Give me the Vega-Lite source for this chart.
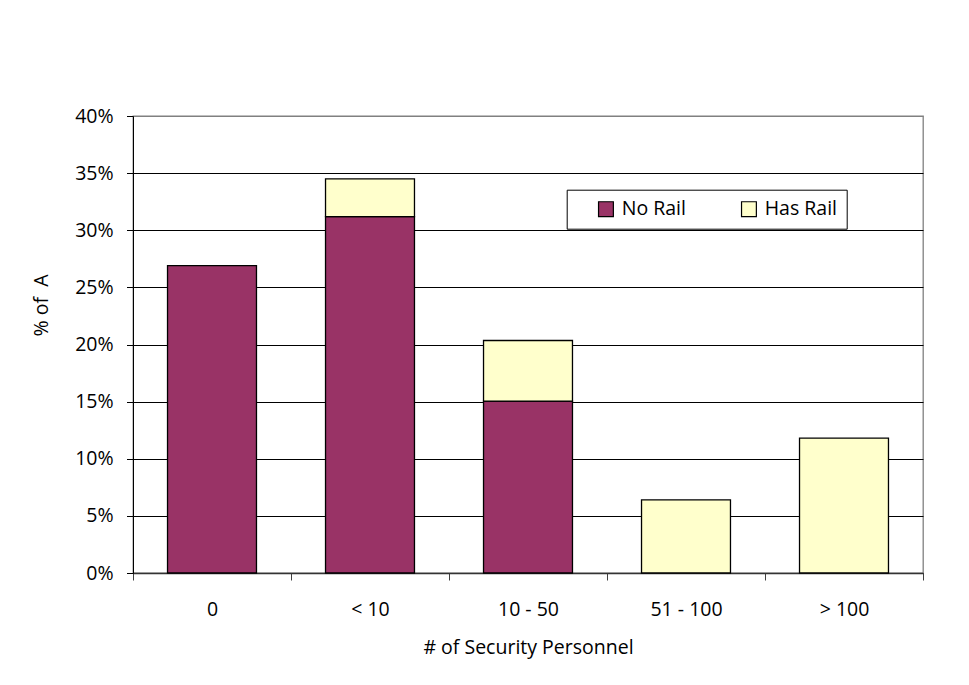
{
  "$schema": "https://vega.github.io/schema/vega-lite/v6.json",
  "width": 790,
  "height": 457,
  "autosize": "none",
  "padding": {"left": 133, "top": 116, "right": 46, "bottom": 112},
  "background": "white",
  "data": {
    "values": [
      {"personnel": "0", "series": "No Rail", "share": 0.269},
      {"personnel": "< 10", "series": "No Rail", "share": 0.312},
      {"personnel": "< 10", "series": "Has Rail", "share": 0.033},
      {"personnel": "10 - 50", "series": "No Rail", "share": 0.1505},
      {"personnel": "10 - 50", "series": "Has Rail", "share": 0.053},
      {"personnel": "51 - 100", "series": "Has Rail", "share": 0.064},
      {"personnel": "> 100", "series": "Has Rail", "share": 0.118}
    ]
  },
  "mark": {"type": "bar", "width": {"band": 0.563}, "stroke": "#000000", "strokeWidth": 1.3},
  "encoding": {
    "x": {
      "field": "personnel",
      "type": "nominal",
      "sort": ["0", "< 10", "10 - 50", "51 - 100", "> 100"],
      "scale": {"paddingInner": 0, "paddingOuter": 0},
      "axis": {
        "title": "# of Security Personnel",
        "labelAngle": 0,
        "tickBand": "extent",
        "tickSize": 7,
        "tickColor": "#404040",
        "domainColor": "#333333",
        "domainWidth": 1.5,
        "labelPadding": 20,
        "titlePadding": 20,
        "grid": false
      }
    },
    "y": {
      "field": "share",
      "type": "quantitative",
      "stack": "zero",
      "scale": {"domain": [0, 0.4], "nice": false},
      "axis": {
        "title": "% of\u00a0 A",
        "format": ".0%",
        "values": [0, 0.05, 0.1, 0.15, 0.2, 0.25, 0.3, 0.35, 0.4],
        "tickSize": 6.5,
        "tickColor": "#000000",
        "domainColor": "#000000",
        "labelPadding": 13.4,
        "grid": true,
        "gridColor": {"condition": {"test": "datum.value >= 0.399", "value": "#808080"}, "value": "#000000"},
        "gridWidth": 1,
        "titleAngle": 270,
        "titleX": -85.5,
        "titleY": 189,
        "titleBaseline": "alphabetic",
        "titleAlign": "center"
      }
    },
    "color": {
      "field": "series",
      "type": "nominal",
      "scale": {"domain": ["No Rail", "Has Rail"], "range": ["#993366", "#FFFFCC"]},
      "legend": {
        "title": null,
        "orient": "none",
        "direction": "horizontal",
        "legendX": 433.7,
        "legendY": 73.7,
        "padding": 9.5,
        "strokeColor": "#000000",
        "fillColor": "#ffffff",
        "symbolType": "square",
        "symbolSize": 220,
        "symbolStrokeColor": "#000000",
        "symbolStrokeWidth": 1.2,
        "symbolOpacity": 1,
        "symbolOffset": 20,
        "labelOffset": 6,
        "columnPadding": 33
      }
    },
    "order": {"field": "series", "sort": "descending"}
  },
  "config": {
    "font": "Open Sans",
    "view": {"stroke": "#808080", "strokeWidth": 1.3},
    "axis": {
      "labelFont": "Open Sans",
      "labelFontSize": 19.5,
      "labelColor": "#000000",
      "titleFont": "Open Sans",
      "titleFontSize": 19.5,
      "titleFontWeight": "normal",
      "titleColor": "#000000"
    },
    "legend": {
      "labelFont": "Open Sans",
      "labelFontSize": 19.5,
      "labelColor": "#000000"
    }
  }
}
